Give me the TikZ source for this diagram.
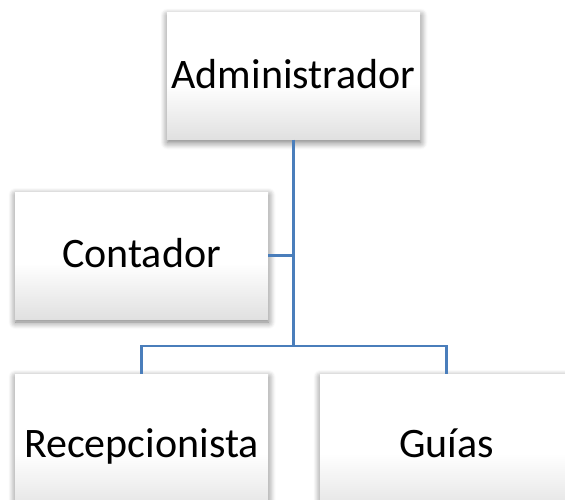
\documentclass[tikz,border=0pt]{standalone}
\usepackage{fontspec}
\setmainfont{Carlito}
\usepackage{tikz}
\usetikzlibrary{shadows.blur}
\definecolor{linkblue}{HTML}{4A7EBB}
\pgfdeclareverticalshading{cardshade}{100bp}{color(0bp)=(black!12); color(25bp)=(black!12); color(47bp)=(white); color(100bp)=(white)}

\begin{document}
\begin{tikzpicture}[x=1pt,y=-1pt,
    cargo/.style={minimum width=253pt,minimum height=127pt,inner sep=0pt,
      shading=cardshade,text height=30pt,text depth=6pt,
      blur shadow={shadow xshift=0.5pt,shadow yshift=-3pt,shadow blur radius=7pt,shadow blur steps=8,shadow opacity=55},
      font=\fontsize{42}{50}\selectfont},
    enlace/.style={draw=linkblue,line width=2.2pt}]
    \useasboundingbox (0,0) rectangle (565,499);
    \clip (0,0) rectangle (565,499);
    \node[cargo] (admin) at (293.5,76) {Administrador};
    \node[cargo] (conta) at (141.5,255.5) {Contador};
    \foreach \n/\x/\t in {recep/141.5/Recepcionista,guias/446.5/Guías} {
      \node[cargo,minimum height=142pt] (\n) at (\x,445) {\t};
    }
    \coordinate (bus) at (admin.south |- 0,346);
    \draw[enlace] (admin.south) -- (bus);
    \draw[enlace] (conta.east) -- (admin.south |- conta.east);
    \draw[enlace] (recep.north) |- (bus) -| (guias.north);
\end{tikzpicture}
\end{document}
